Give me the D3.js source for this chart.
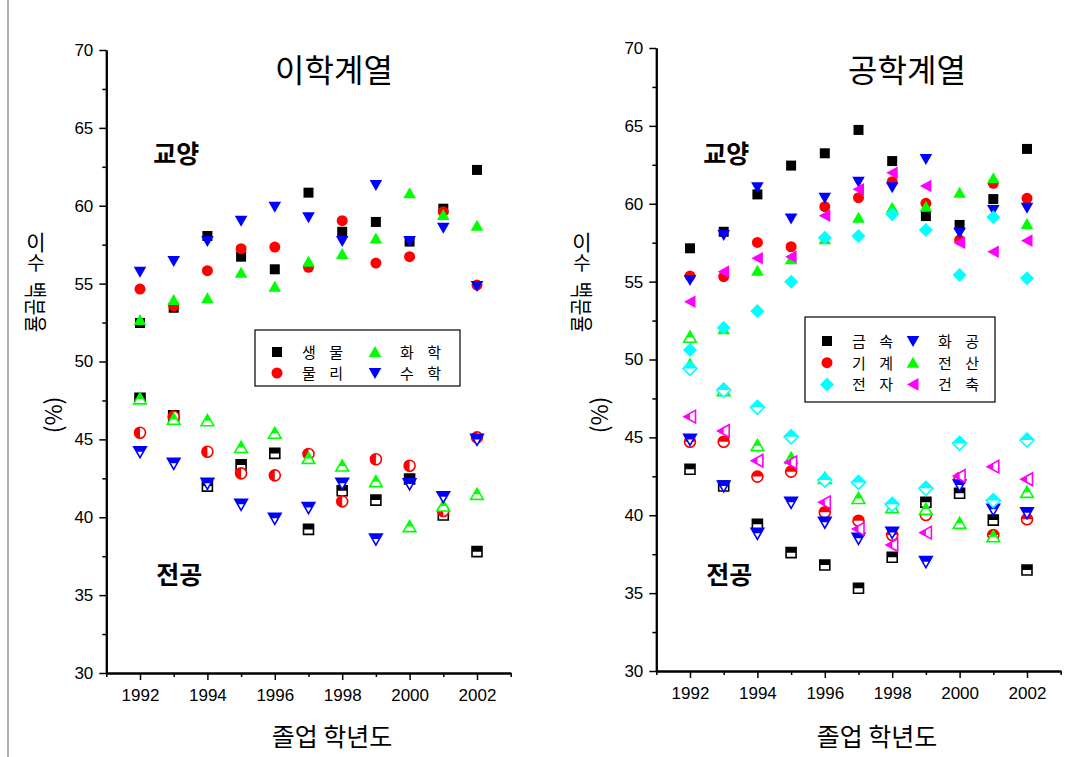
<!DOCTYPE html>
<html>
<head>
<meta charset="utf-8">
<script src="https://cdn.jsdelivr.net/npm/d3@7"></script>
<style>
  body { margin: 0; background: #fff; }
  svg { display: block; }
  .num { font-family: "Liberation Sans", Arial, sans-serif; font-size: 17px; fill: #000; }
  .kr { font-family: "Noto Sans CJK KR", sans-serif; fill: #000; }
</style>
</head>
<body>
<svg id="vis" width="1085" height="757"></svg>
<script>
// graduation years (x categories)
const years = [1992, 1993, 1994, 1995, 1996, 1997, 1998, 1999, 2000, 2001, 2002]
const yTicks = [30, 35, 40, 45, 50, 55, 60, 65, 70]
const xTicks = [1992, 1994, 1996, 1998, 2000, 2002]

// 이학계열 : 교양 (general) / 전공 (major) percentages
const bioGen  = [52.47, 53.45, 58.06, 56.73, 55.92, 60.84, 58.33, 58.96, 57.70, 59.81, 62.30]
const bioMaj  = [47.64, 46.52, 42.00, 43.36, 44.10, 39.22, 41.70, 41.10, 42.46, 40.14, 37.79]
const phyGen  = [54.65, 53.56, 55.83, 57.24, 57.35, 56.05, 59.04, 56.32, 56.73, 59.62, 54.91]
const phyMaj  = [45.43, 46.46, 44.21, 42.82, 42.69, 44.06, 41.02, 43.72, 43.31, 40.40, 45.13]
const chemGen = [52.66, 53.95, 54.06, 55.70, 54.80, 56.41, 56.90, 57.89, 60.80, 59.40, 58.72]
const chemMaj = [47.60, 46.29, 46.20, 44.48, 45.39, 43.78, 43.29, 42.29, 39.40, 40.72, 41.47]
const mathGen = [55.77, 56.45, 57.74, 59.04, 59.94, 59.26, 57.74, 61.33, 57.74, 58.59, 54.85]
const mathMaj = [44.21, 43.46, 42.18, 40.83, 39.93, 40.62, 42.18, 38.60, 42.14, 41.32, 45.00]

// 공학계열
const metalGen   = [57.14, 58.20, 60.60, 62.45, 63.24, 64.74, 62.74, 59.21, 58.64, 60.30, 63.52]
const metalMaj   = [42.95, 41.88, 39.42, 37.60, 36.81, 35.31, 37.30, 40.83, 41.41, 39.69, 36.48]
const mechGen    = [55.36, 55.32, 57.52, 57.24, 59.81, 60.39, 61.42, 60.03, 57.67, 61.31, 60.35]
const mechMaj    = [44.72, 44.72, 42.48, 42.80, 40.19, 39.65, 38.73, 40.02, 42.37, 38.73, 39.74]
const elecGen    = [50.61, 52.04, 53.11, 55.00, 57.82, 57.93, 59.32, 58.31, 55.43, 59.13, 55.21]
const elecMaj    = [49.43, 48.04, 46.93, 45.04, 42.26, 42.11, 40.70, 41.73, 44.62, 40.94, 44.83]
const chemEngGen = [55.10, 57.99, 61.06, 59.06, 60.39, 61.42, 61.06, 62.87, 58.14, 59.60, 59.75]
const chemEngMaj = [44.87, 41.88, 38.84, 40.83, 39.55, 38.52, 38.90, 37.02, 41.94, 40.38, 40.16]
const compGen    = [49.75, 51.95, 55.70, 56.43, 57.72, 59.10, 59.75, 59.81, 60.71, 61.63, 58.70]
const compMaj    = [51.43, 48.00, 44.47, 43.65, 42.37, 41.08, 40.49, 40.38, 39.48, 38.62, 41.47]
const archGen    = [53.71, 55.64, 56.50, 56.60, 59.23, 60.93, 61.99, 61.14, 57.50, 56.92, 57.63]
const archMaj    = [46.33, 45.41, 43.50, 43.40, 40.83, 39.12, 38.09, 38.88, 42.52, 43.12, 42.31]

const vis = d3.select("#vis")

// marker shapes
const shapes = {
  square: "M-5,-5h10v10h-10z",
  circle: "M-5.5,0a5.5,5.5 0 1,0 11,0a5.5,5.5 0 1,0 -11,0z",
  up: "M0,-6L6.3,5L-6.3,5z",
  down: "M0,6L6.3,-5L-6.3,-5z",
  diamond: "M0,-7L7,0L0,7L-7,0z",
  left: "M-6,0L5.5,-6.3L5.5,6.3z"
}

// clip paths for the half-filled (전공) markers
const defs = vis.append("defs")
defs.append("clipPath").attr("id", "halfTop").append("rect")
  .attr("x", -10).attr("y", -10).attr("width", 20).attr("height", 10)
defs.append("clipPath").attr("id", "halfLeft").append("rect")
  .attr("x", -10).attr("y", -10).attr("width", 10).attr("height", 20)

// thin frame line on the far left
vis.append("line").attr("x1", 8).attr("x2", 8).attr("y1", 0).attr("y2", 757)
  .attr("stroke", "#999").attr("stroke-width", 1.5)

function drawPanel(p) {
  const x = d3.scaleLinear().domain([1991, 2003]).range([p.left, p.right])
  const y = d3.scaleLinear().domain([30, 70]).range([p.bottom, p.top])

  const minorY = d3.range(32.5, 70, 5)
  const minorX = [1991, 1993, 1995, 1997, 1999, 2001, 2003]

  // axes
  const gy = vis.append("g").attr("transform", `translate(${p.left},0)`)
  gy.call(d3.axisLeft(y).tickValues(yTicks).tickSize(7).tickSizeOuter(0).tickPadding(6).tickFormat(d3.format("d")))
  gy.append("g").call(d3.axisLeft(y).tickValues(minorY).tickSize(4).tickSizeOuter(0).tickFormat(""))
  const gx = vis.append("g").attr("transform", `translate(0,${p.bottom})`)
  gx.call(d3.axisBottom(x).tickValues(xTicks).tickSize(7).tickSizeOuter(0).tickPadding(9).tickFormat(d3.format("d")))
  gx.append("g").call(d3.axisBottom(x).tickValues(minorX).tickSize(4).tickSizeOuter(0).tickFormat(""))
  vis.selectAll(".domain").attr("stroke-width", 2)
  vis.selectAll(".tick line").attr("stroke-width", 1.5)
  vis.selectAll(".tick text").attr("class", "num")

  // series: 교양 filled, 전공 half filled
  p.series.forEach(s => {
    const pts = years.map((yr, i) => ({ yr, gen: s.gen[i], maj: s.maj[i] }))
    vis.append("g").selectAll("path").data(pts).enter().append("path")
      .attr("transform", d => `translate(${x(d.yr)},${y(d.gen)})`)
      .attr("d", shapes[s.shape]).attr("fill", s.color)
    const mg = vis.append("g").selectAll("g").data(pts).enter().append("g")
      .attr("transform", d => `translate(${x(d.yr)},${y(d.maj)})`)
    mg.append("path").attr("d", shapes[s.shape]).attr("fill", "#fff")
      .attr("stroke", s.color).attr("stroke-width", 1.6)
    mg.append("path").attr("d", shapes[s.shape]).attr("fill", s.color)
      .attr("clip-path", s.half === "left" ? "url(#halfLeft)" : "url(#halfTop)")
  })

  // title
  vis.append("text").attr("class", "kr").attr("x", p.titleX).attr("y", 82)
    .attr("text-anchor", "middle").attr("font-size", 32).text(p.title)
  // group labels
  vis.append("text").attr("class", "kr").attr("x", p.left + 47).attr("y", 163)
    .attr("font-size", 25).attr("font-weight", "bold").text("교양")
  vis.append("text").attr("class", "kr").attr("x", p.left + 50).attr("y", 584)
    .attr("font-size", 25).attr("font-weight", "bold").text("전공")
  // x title
  vis.append("text").attr("class", "kr").attr("x", p.xTitleX).attr("y", 746)
    .attr("text-anchor", "middle").attr("font-size", 25).text("졸업 학년도")
  // y title (stacked, partly sideways like the original)
  const yt = vis.append("g").attr("transform", `translate(${p.yTitleX},0)`)
  const upright = yt.append("text").attr("class", "kr").attr("text-anchor", "middle")
    .attr("font-size", 21)
  upright.append("tspan").attr("x", 0).attr("y", 250).text("이")
  upright.append("tspan").attr("x", 0).attr("y", 270).attr("font-size", 19).text("수")
  const side = ["백", "분", "율"]
  side.forEach((ch, i) => {
    yt.append("text").attr("class", "kr").attr("font-size", 18)
      .attr("text-anchor", "middle").attr("dominant-baseline", "central")
      .attr("transform", `translate(1,${290 + i * 17}) rotate(90) scale(1,1.25)`).text(ch)
  })
  yt.append("text").attr("class", "kr").attr("font-size", 23).attr("text-anchor", "middle")
    .attr("transform", "translate(26,415) rotate(-90)").text("(%)")

  // legend
  const lg = vis.append("g")
  lg.append("rect").attr("x", p.legend.x).attr("y", p.legend.y)
    .attr("width", p.legend.w).attr("height", p.legend.h)
    .attr("fill", "#fff").attr("stroke", "#000").attr("stroke-width", 1.2)
  p.legend.items.forEach(it => {
    const ix = p.legend.x + (it.col === 0 ? p.legend.c0 : p.legend.c1)
    const iy = p.legend.y + p.legend.r0 + it.row * p.legend.rh
    lg.append("path").attr("transform", `translate(${ix},${iy})`)
      .attr("d", shapes[it.shape]).attr("fill", it.color)
    lg.append("text").attr("class", "kr").attr("x", ix + 25).attr("y", iy + 6)
      .attr("font-size", 15).attr("letter-spacing", 5).attr("fill", "#222").text(it.label)
  })
}

// 이학계열 panel
const sciSeries = [
  { gen: bioGen, maj: bioMaj, color: "#000000", shape: "square", half: "top" },
  { gen: phyGen, maj: phyMaj, color: "#ff0000", shape: "circle", half: "left" },
  { gen: chemGen, maj: chemMaj, color: "#00ff00", shape: "up", half: "top" },
  { gen: mathGen, maj: mathMaj, color: "#0000ff", shape: "down", half: "top" }
]
drawPanel({
  left: 106.3, right: 510.7, top: 50, bottom: 673,
  title: "이학계열", titleX: 334, xTitleX: 332, yTitleX: 36,
  series: sciSeries,
  legend: {
    x: 255, y: 330, w: 205, h: 56, c0: 22, c1: 120, r0: 22, rh: 21,
    items: [
      { label: "생 물", color: "#000000", shape: "square", col: 0, row: 0 },
      { label: "물 리", color: "#ff0000", shape: "circle", col: 0, row: 1 },
      { label: "화 학", color: "#00ff00", shape: "up", col: 1, row: 0 },
      { label: "수 학", color: "#0000ff", shape: "down", col: 1, row: 1 }
    ]
  }
})

// 공학계열 panel
const engSeries = [
  { gen: metalGen, maj: metalMaj, color: "#000000", shape: "square", half: "top" },
  { gen: mechGen, maj: mechMaj, color: "#ff0000", shape: "circle", half: "top" },
  { gen: chemEngGen, maj: chemEngMaj, color: "#0000ff", shape: "down", half: "top" },
  { gen: compGen, maj: compMaj, color: "#00ff00", shape: "up", half: "top" },
  { gen: elecGen, maj: elecMaj, color: "#00ffff", shape: "diamond", half: "top" },
  { gen: archGen, maj: archMaj, color: "#ff00ff", shape: "left", half: "left" }
]
drawPanel({
  left: 656.3, right: 1060.7, top: 48, bottom: 671,
  title: "공학계열", titleX: 907, xTitleX: 877, yTitleX: 582,
  series: engSeries,
  legend: {
    x: 805, y: 317, w: 190, h: 85, c0: 22, c1: 108, r0: 24, rh: 21.7,
    items: [
      { label: "금 속", color: "#000000", shape: "square", col: 0, row: 0 },
      { label: "기 계", color: "#ff0000", shape: "circle", col: 0, row: 1 },
      { label: "전 자", color: "#00ffff", shape: "diamond", col: 0, row: 2 },
      { label: "화 공", color: "#0000ff", shape: "down", col: 1, row: 0 },
      { label: "전 산", color: "#00ff00", shape: "up", col: 1, row: 1 },
      { label: "건 축", color: "#ff00ff", shape: "left", col: 1, row: 2 }
    ]
  }
})
</script>
</body>
</html>
